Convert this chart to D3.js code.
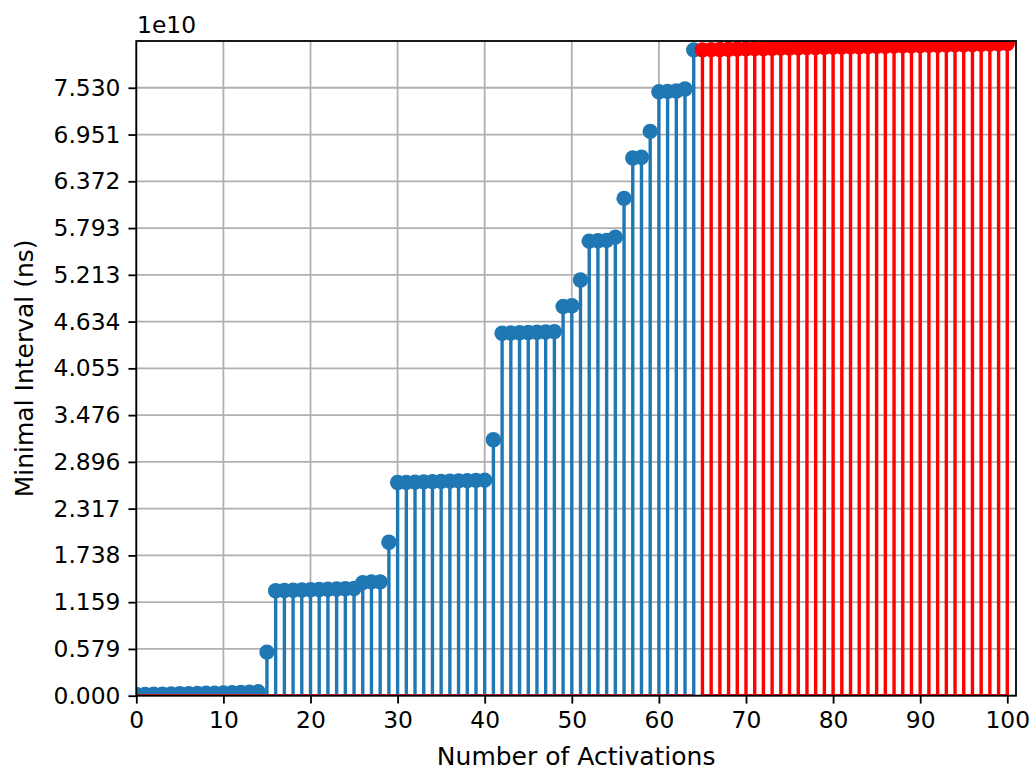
<!DOCTYPE html>
<html>
<head>
<meta charset="utf-8">
<script src="https://cdn.jsdelivr.net/npm/d3@7"></script>
<style>
  body { margin: 0; background: #fff; }
  text { font-family: "DejaVu Sans", sans-serif; fill: #000; }
</style>
</head>
<body>
<div id="chart"></div>
<script>
// activations 0..64 (blue) and 65..100 (red), values in units of 1e10 ns
var blueX = d3.range(0, 65);
var blueValues = [
  0.015, 0.017, 0.019, 0.020, 0.022, 0.024, 0.026, 0.028, 0.030, 0.032,
  0.035, 0.038, 0.041, 0.044, 0.048, 0.54,
  1.300, 1.303, 1.306, 1.309, 1.312, 1.315, 1.318, 1.321, 1.324, 1.327,
  1.40, 1.41, 1.41, 1.90,
  2.640, 2.643, 2.646, 2.649, 2.652, 2.655, 2.658, 2.661, 2.664, 2.667, 2.670,
  3.17,
  4.490, 4.493, 4.496, 4.499, 4.502, 4.505, 4.510,
  4.82, 4.83, 5.15,
  5.630, 5.635, 5.640, 5.680,
  6.16, 6.66, 6.67, 6.99,
  7.480, 7.485, 7.490, 7.515,
  8.00
];
var redX = d3.range(65, 101);
var redValues = [
  8.000, 8.003, 8.005, 8.008, 8.010, 8.012, 8.015, 8.017, 8.019, 8.021,
  8.023, 8.025, 8.027, 8.029, 8.031, 8.033, 8.035, 8.037, 8.039, 8.041,
  8.043, 8.045, 8.047, 8.049, 8.051, 8.053, 8.055, 8.057, 8.059, 8.061,
  8.063, 8.066, 8.068, 8.071, 8.074, 8.078
];
var xTicks = [0, 10, 20, 30, 40, 50, 60, 70, 80, 90, 100];
var yMax = 8.10955;
var yTicks = d3.range(0, 14).map(function(i) { return i * yMax / 14; });

var W = 1035, H = 773;
var margin = {top: 41, right: 19, bottom: 77.3, left: 136.3},
    width = W - margin.left - margin.right,
    height = H - margin.top - margin.bottom;

var svg = d3.select("#chart").append("svg")
    .attr("width", W).attr("height", H);

var g = svg.append("g")
    .attr("transform", "translate(" + margin.left + "," + margin.top + ")");

var x = d3.scaleLinear().domain([0, 101]).range([0, width]);
var y = d3.scaleLinear().domain([0, yMax]).range([height, 0]);

g.append("clipPath").attr("id", "clip")
  .append("rect").attr("width", width).attr("height", height);

// grid
g.append("g").selectAll("line").data(xTicks).enter().append("line")
    .attr("x1", function(d) { return x(d); }).attr("x2", function(d) { return x(d); })
    .attr("y1", 0).attr("y2", height)
    .attr("stroke", "#b0b0b0").attr("stroke-width", 1.8);
g.append("g").selectAll("line").data(yTicks).enter().append("line")
    .attr("y1", function(d) { return y(d); }).attr("y2", function(d) { return y(d); })
    .attr("x1", 0).attr("x2", width)
    .attr("stroke", "#b0b0b0").attr("stroke-width", 1.8);

var plot = g.append("g").attr("clip-path", "url(#clip)");

function stems(xs, vals, color, baseColor) {
  var data = xs.map(function(d, i) { return {x: d, v: vals[i]}; });
  plot.append("g").selectAll("line").data(data).enter().append("line")
      .attr("x1", function(d) { return x(d.x); }).attr("x2", function(d) { return x(d.x); })
      .attr("y1", y(0)).attr("y2", function(d) { return y(d.v); })
      .attr("stroke", color).attr("stroke-width", 3.4);
  plot.append("g").selectAll("circle").data(data).enter().append("circle")
      .attr("cx", function(d) { return x(d.x); })
      .attr("cy", function(d) { return y(d.v); })
      .attr("r", 7.7)
      .attr("fill", color);
  plot.append("line")
      .attr("x1", x(d3.min(xs))).attr("x2", x(d3.max(xs)))
      .attr("y1", y(0)).attr("y2", y(0))
      .attr("stroke", baseColor).attr("stroke-width", 3.4);
}

stems(blueX, blueValues, "#1f77b4", "#d62728");
stems(redX, redValues, "#ff0000", "#ff0000");

// axes
var xAxis = d3.axisBottom(x).tickValues(xTicks).tickSize(7.9).tickPadding(7.9)
    .tickFormat(d3.format("d"));
var yAxis = d3.axisLeft(y).tickValues(yTicks).tickSize(7.9).tickPadding(7.9)
    .tickFormat(d3.format(".3f"));

var gx = g.append("g").attr("transform", "translate(0," + height + ")").call(xAxis);
var gy = g.append("g").call(yAxis);
[gx, gy].forEach(function(a) {
  a.select(".domain").remove();
  a.selectAll("line").attr("stroke", "#000").attr("stroke-width", 1.8);
  a.selectAll("text").style("font-size", "23.4px").style("font-family", "DejaVu Sans");
});

// frame
g.append("rect").attr("width", width).attr("height", height)
    .attr("fill", "none").attr("stroke", "#000").attr("stroke-width", 1.8);

// labels
svg.append("text").attr("x", margin.left + width / 2).attr("y", 765)
    .attr("text-anchor", "middle").style("font-size", "25px")
    .text("Number of Activations");
svg.append("text").attr("transform", "translate(33," + (margin.top + height / 2) + ") rotate(-90)")
    .attr("text-anchor", "middle").style("font-size", "25px")
    .text("Minimal Interval (ns)");
svg.append("text").attr("x", 137).attr("y", 33.3)
    .style("font-size", "23.4px").text("1e10");
</script>
</body>
</html>
